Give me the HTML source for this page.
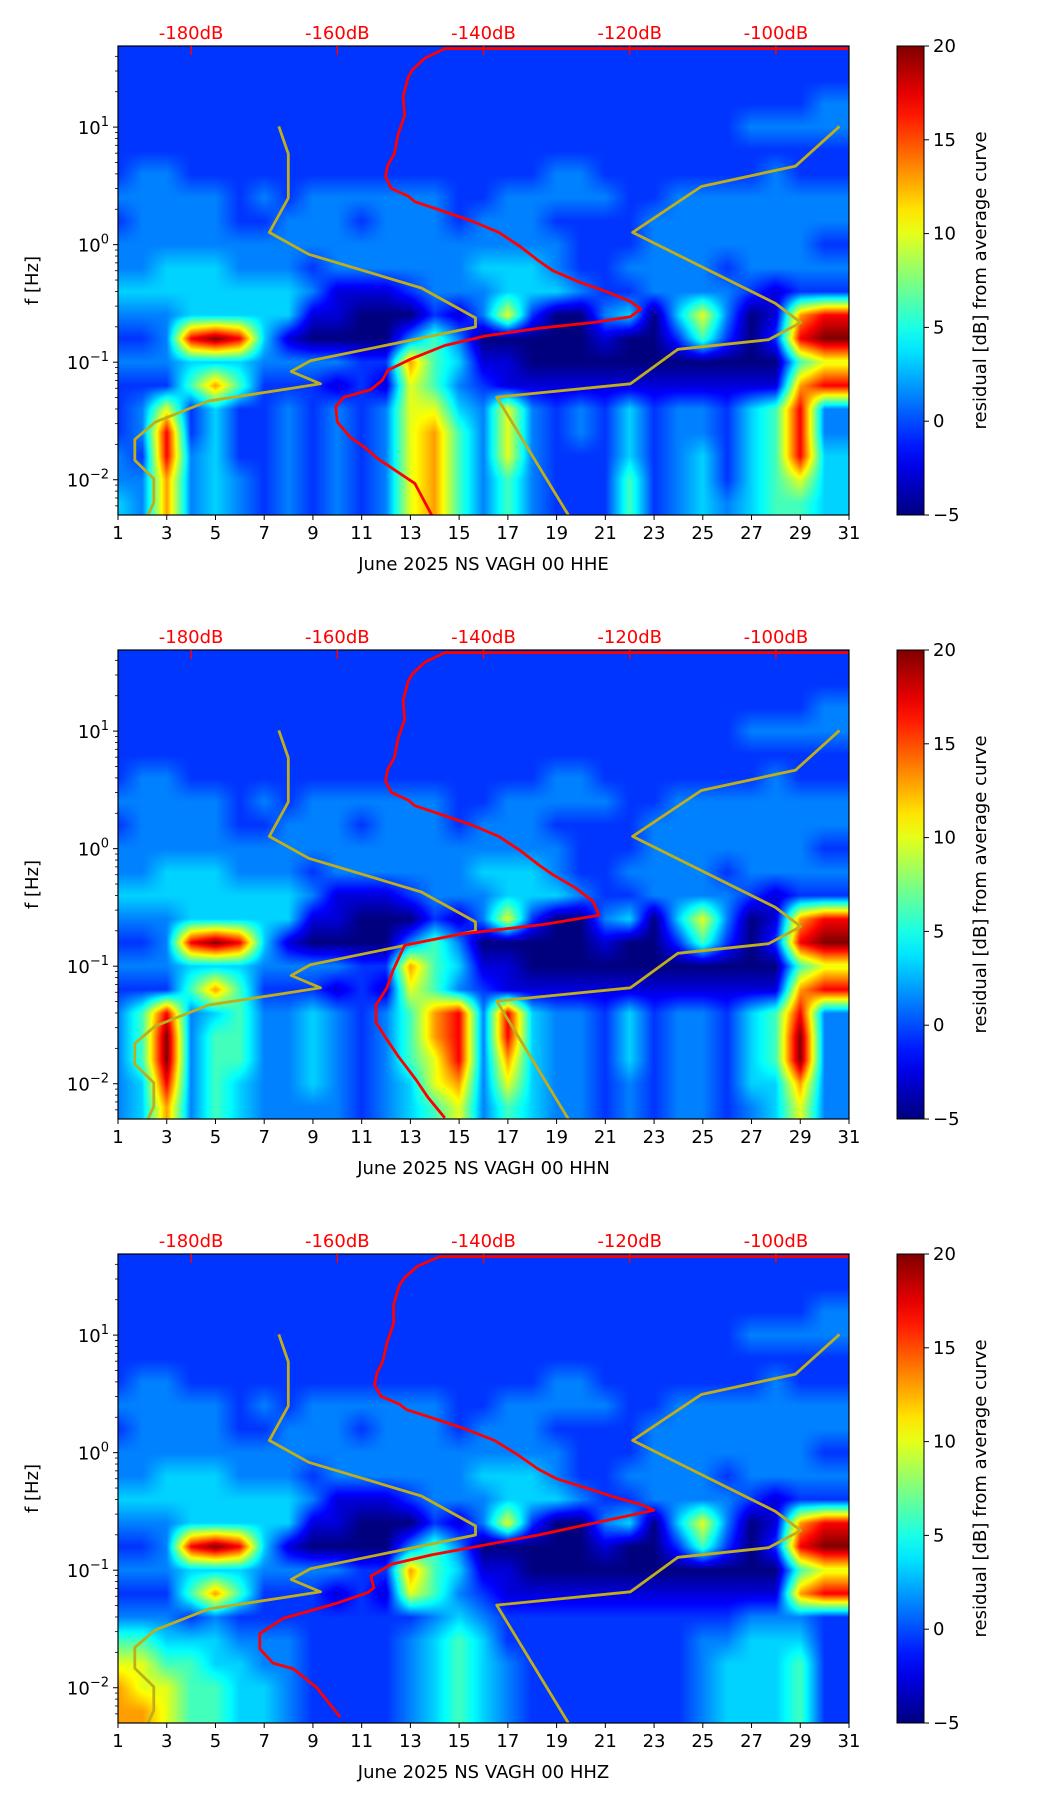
<!DOCTYPE html>
<html><head><meta charset="utf-8">
<style>
html,body{margin:0;padding:0;background:#fff;}
#root{position:relative;width:1052px;height:1806px;overflow:hidden;background:#fff;font-family:"DejaVu Sans","Liberation Sans",sans-serif;}
canvas{position:absolute;}
svg{position:absolute;left:0;top:0;}
</style></head>
<body>
<div id="root">
<svg id="svg" width="1052" height="1806"></svg>
</div>
<script>
// ---- data ----
const channelNames = ["HHE","HHN","HHZ"];
const dayTicks = [1,3,5,7,9,11,13,15,17,19,21,23,25,27,29,31];
const dbTicks = [-180,-160,-140,-120,-100];
const decadeTicks = [1,0,-1,-2];
const cbarTicks = [20,15,10,5,0,-5];
// residual dB value represented by each level character 0-9
const levelValues = [-5,-2.8,-0.6,1.3,3.3,6,10,13,17,20];
// heatmap upper rows (shared), 20 rows of 0.2 decades from 40 Hz downward, 30 day columns
const upperRows = [
"222222222222222222222222222222",
"222222222222222222222222222222",
"222222222222222222222222222223",
"222222222222222222222222223333",
"222222222222222222222222222222",
"233222222222222222332222222322",
"333332323333332233333223333333",
"233332233323332333222233333333",
"333333333333333333322233333332",
"334443332333333444322333323333",
"444444443111233344432233332122",
"333444441100021362003404630178",
"223898410000353000001002520289",
"333444333322754110000000000056",
"222575222121653211111111111178"
];
const lowerRowsHHE = [
"236242232323664363232423324583",
"238242232323675363232423324583",
"328342232323675363222423424584",
"337343232323675353222523424564",
"437343232323675353222523434554"
];
const lowerRowsHHN = [
"358345334323578384332423324583",
"359355334323578384332423324593",
"359355334323568374332423324593",
"348354334323467364332323324473",
"347354333323456354332323323463"
];
const lowerRowsHHZ = [
"333232222222234322222222223332",
"554443332222345422222222334442",
"665544332222345432222222344452",
"766554432222345432222222344452",
"776554432222345432222222344452"
];
// yellow low-noise model curve (dB, log10 f)
const nlnmDB = [-168.0,-166.7,-166.7,-169.3,-163.9,-148.5,-141.1,-141.1,-163.7,-166.3,-162.3,-167.4,-177.6,-184.9,-187.7,-187.7,-185.1,-185.1,-185.9];
const nlnmLogF = [1.006,0.773,0.397,0.104,-0.082,-0.369,-0.623,-0.701,-0.988,-1.079,-1.184,-1.233,-1.330,-1.510,-1.657,-1.835,-1.992,-2.194,-2.299];
// yellow high-noise model curve
const nhnmDB = [-91.3,-97.3,-110.2,-119.6,-100.1,-96.6,-101.0,-113.4,-119.9,-138.2,-128.4];
const nhnmLogF = [1.006,0.668,0.495,0.104,-0.499,-0.662,-0.809,-0.890,-1.184,-1.297,-2.299];
// red mean PSD curves
const meanHHE_DB = [-89.9,-145.3,-148.0,-149.7,-150.3,-151.0,-150.8,-151.7,-152.2,-153.1,-153.4,-152.6,-150.3,-149.4,-146.2,-141.6,-137.9,-135.1,-132.4,-130.5,-126.8,-123.1,-119.9,-118.5,-119.9,-125.0,-132.4,-139.7,-145.3,-149.9,-153.1,-153.8,-155.4,-159.1,-160.2,-160.0,-158.2,-156.3,-154.5,-149.4,-147.1];
const meanHHE_LogF = [1.668,1.668,1.587,1.489,1.424,1.261,1.098,0.935,0.773,0.674,0.577,0.478,0.413,0.365,0.299,0.201,0.104,-0.011,-0.140,-0.222,-0.320,-0.401,-0.483,-0.548,-0.613,-0.662,-0.711,-0.776,-0.858,-0.972,-1.070,-1.151,-1.233,-1.298,-1.379,-1.510,-1.640,-1.722,-1.819,-2.031,-2.299];
const meanHHN_DB = [-89.9,-145.3,-148.0,-149.7,-150.3,-151.0,-150.8,-151.7,-152.2,-153.1,-153.4,-152.6,-150.3,-149.4,-146.2,-141.6,-137.9,-135.1,-132.4,-130.5,-127.5,-125.0,-124.2,-131.8,-142.9,-150.8,-152.4,-153.2,-154.7,-154.7,-153.2,-151.6,-149.2,-147.6,-145.3];
const meanHHN_LogF = [1.668,1.668,1.587,1.489,1.424,1.261,1.098,0.935,0.773,0.674,0.577,0.478,0.413,0.365,0.299,0.201,0.104,-0.011,-0.140,-0.222,-0.330,-0.450,-0.567,-0.645,-0.724,-0.822,-1.038,-1.184,-1.331,-1.478,-1.625,-1.772,-1.968,-2.115,-2.291];
const meanHHZ_DB = [-89.9,-146.0,-149.0,-150.8,-151.5,-152.3,-152.3,-153.2,-153.8,-154.6,-154.9,-154.0,-151.5,-150.5,-147.2,-142.5,-138.5,-135.5,-132.5,-130.0,-126.0,-122.0,-118.5,-116.7,-132.4,-147.1,-152.6,-155.4,-155.0,-155.8,-160.0,-167.4,-170.6,-170.6,-168.8,-166.0,-162.8,-159.6];
const meanHHZ_LogF = [1.668,1.668,1.587,1.489,1.424,1.261,1.098,0.935,0.773,0.674,0.577,0.478,0.413,0.365,0.299,0.201,0.104,-0.011,-0.140,-0.222,-0.300,-0.380,-0.440,-0.490,-0.700,-0.870,-0.950,-1.050,-1.150,-1.190,-1.280,-1.410,-1.540,-1.670,-1.790,-1.840,-2.000,-2.250];

// ---- layout ----
const L = 118, W = 731, H = 469;
const tops = [46, 650, 1254];
const logTop = 1.69, logBot = -2.30;
const dayMin = 1, dayMax = 31, dbMin = -190, dbMax = -90;
const xDay = d => L + (d - dayMin) / (dayMax - dayMin) * W;
const xDB = db => L + (db - dbMin) / (dbMax - dbMin) * W;
const yLog = (top, l) => top + (logTop - l) / (logTop - logBot) * H;

function jet(t){
  t = Math.max(0, Math.min(1, t));
  const c = v => Math.max(0, Math.min(1, v));
  const r = c(Math.min(4*t - 1.5, -4*t + 4.5));
  const g = c(Math.min(4*t - 0.5, -4*t + 3.5));
  const b = c(Math.min(4*t + 0.5, -4*t + 2.5));
  return [r*255|0, g*255|0, b*255|0];
}

const root = document.getElementById('root');
const svg = document.getElementById('svg');
const NS = 'http://www.w3.org/2000/svg';
function mk(tag, attrs, parent){
  const e = document.createElementNS(NS, tag);
  for (const k in attrs) e.setAttribute(k, attrs[k]);
  (parent || svg).appendChild(e);
  return e;
}

const lowerSets = [lowerRowsHHE, lowerRowsHHN, lowerRowsHHZ];
const meanDBs = [meanHHE_DB, meanHHN_DB, meanHHZ_DB];
const meanLogs = [meanHHE_LogF, meanHHN_LogF, meanHHZ_LogF];

tops.forEach((top, p) => {
  const rows = upperRows.concat(lowerSets[p]);
  const grid = rows.map(s => s.split('').map(ch => levelValues[+ch]));
  const nR = grid.length, nC = grid[0].length;
  const cv = document.createElement('canvas');
  cv.width = W; cv.height = H;
  cv.style.left = L + 'px'; cv.style.top = top + 'px';
  
  
  root.insertBefore(cv, svg);
  const ctx = cv.getContext('2d');
  const img = ctx.createImageData(W, H);
  for (let py = 0; py < H; py++){
    const l = logTop - (py + 0.5) / H * (logTop - logBot);
    let rf = (1.6 - l) / 0.2;
    rf = Math.max(0, Math.min(nR - 1, rf));
    const r0 = Math.floor(rf), r1 = Math.min(nR - 1, r0 + 1), fy = rf - r0;
    for (let px = 0; px < W; px++){
      const d = dayMin + (px + 0.5) / W * (dayMax - dayMin);
      let cf = d - 1;
      cf = Math.max(0, Math.min(nC - 1, cf));
      const c0 = Math.floor(cf), c1 = Math.min(nC - 1, c0 + 1), fx = cf - c0;
      const v = (grid[r0][c0]*(1-fx) + grid[r0][c1]*fx)*(1-fy) + (grid[r1][c0]*(1-fx) + grid[r1][c1]*fx)*fy;
      const col = jet((v + 5) / 25);
      const i = (py * W + px) * 4;
      img.data[i] = col[0]; img.data[i+1] = col[1]; img.data[i+2] = col[2]; img.data[i+3] = 255;
    }
  }
  ctx.putImageData(img, 0, 0);

  const g = mk('g', {});
  
  

  const clipId = 'clip' + p;
  const cp = mk('clipPath', {id: clipId}, g);
  mk('rect', {x: L, y: top, width: W, height: H}, cp);
  function curve(dbs, logs, color, width, name){
    const pts = dbs.map((db, i) => xDB(db).toFixed(1) + ',' + yLog(top, logs[i]).toFixed(1)).join(' ');
    const pl = mk('polyline', {points: pts, fill: 'none', stroke: color, 'stroke-width': width, 'stroke-linejoin': 'round', 'clip-path': 'url(#' + clipId + ')'}, g);
    
    
  }
  curve(nlnmDB, nlnmLogF, '#bfae1c', 2.8, 'low-noise-model-curve');
  curve(nhnmDB, nhnmLogF, '#bfae1c', 2.8, 'high-noise-model-curve');
  curve(meanDBs[p], meanLogs[p], '#ff0000', 2.8, 'mean-psd-curve');

  const fr = mk('rect', {x: L, y: top, width: W, height: H, fill: 'none', stroke: '#000', 'stroke-width': 1.2}, g);
  
  

  dayTicks.forEach(d => {
    const x = xDay(d);
    mk('line', {x1: x, x2: x, y1: top + H, y2: top + H + 5, stroke: '#000', 'stroke-width': 1}, g);
    const t = mk('text', {x: x, y: top + H + 24, 'text-anchor': 'middle', 'font-size': 18, fill: '#000'}, g);
    t.textContent = d;
    
    
  });
  const xl = mk('text', {x: L + W/2, y: top + H + 55, 'text-anchor': 'middle', 'font-size': 18, fill: '#000'}, g);
  xl.textContent = 'June 2025 NS VAGH 00 ' + channelNames[p];
  
  

  dbTicks.forEach(db => {
    const x = xDB(db);
    mk('line', {x1: x, x2: x, y1: top, y2: top + 9, stroke: '#ff0000', 'stroke-width': 1.5}, g);
    const t = mk('text', {x: x, y: top - 7, 'text-anchor': 'middle', 'font-size': 18, fill: '#ff0000'}, g);
    t.textContent = '-' + Math.abs(db) + 'dB';
    
    
  });

  for (let dec = -3; dec <= 1; dec++){
    for (let m = 1; m <= 9; m++){
      const l = dec + Math.log10(m);
      if (l > logTop || l < logBot) continue;
      const y = yLog(top, l);
      mk('line', {x1: L - (m === 1 ? 5 : 3), x2: L, y1: y, y2: y, stroke: '#000', 'stroke-width': m === 1 ? 1 : 0.8}, g);
    }
  }
  decadeTicks.forEach(e => {
    const y = yLog(top, e);
    const t = mk('text', {x: L - 9, y: y + 7, 'text-anchor': 'end', 'font-size': 18, fill: '#000'}, g);
    
    
    const a = mk('tspan', {}, t); a.textContent = '10';
    const b = mk('tspan', {dy: -8, 'font-size': 13}, t); b.textContent = e < 0 ? '\u2212' + Math.abs(e) : String(e);
  });
  const yl = mk('text', {x: 0, y: 0, 'text-anchor': 'middle', 'font-size': 18, fill: '#000', transform: 'translate(38,' + (top + H/2) + ') rotate(-90)'}, g);
  yl.textContent = 'f [Hz]';
  
  

  const gid = 'cbg' + p;
  const lg = mk('linearGradient', {id: gid, x1: 0, y1: 1, x2: 0, y2: 0}, g);
  for (let i = 0; i <= 20; i++){
    const c = jet(i/20);
    mk('stop', {offset: i/20, 'stop-color': 'rgb(' + c.join(',') + ')'}, lg);
  }
  const cb = mk('rect', {x: 897, y: top, width: 27, height: H, fill: 'url(#' + gid + ')', stroke: '#000', 'stroke-width': 1}, g);
  
  
  cbarTicks.forEach(v => {
    const y = top + (20 - v) / 25 * H;
    mk('line', {x1: 924, x2: 929, y1: y, y2: y, stroke: '#000', 'stroke-width': 1}, g);
    const t = mk('text', {x: 933, y: y + 6, 'font-size': 18, fill: '#000'}, g);
    t.textContent = v < 0 ? '\u2212' + Math.abs(v) : String(v);
    
    
  });
  const cl = mk('text', {x: 0, y: 0, 'text-anchor': 'middle', 'font-size': 18, fill: '#000', transform: 'translate(986,' + (top + H/2) + ') rotate(-90)'}, g);
  cl.textContent = 'residual [dB] from average curve';
  
  
});
</script>
</body></html>
